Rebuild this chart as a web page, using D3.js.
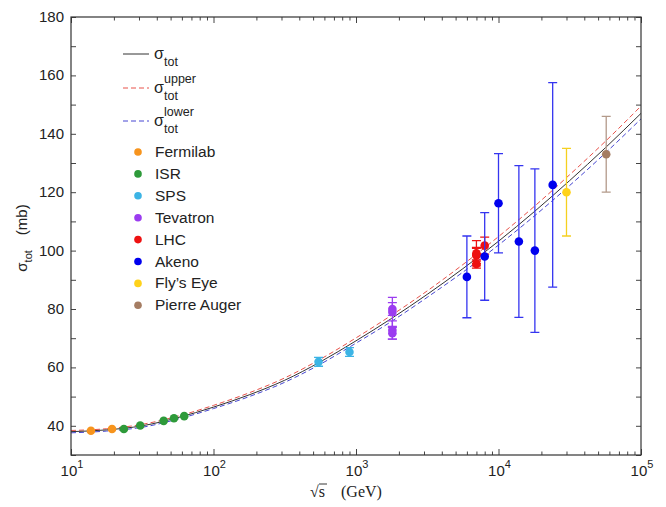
<!DOCTYPE html>
<html>
<head>
<meta charset="utf-8">
<script src="https://cdn.jsdelivr.net/npm/d3@7"></script>
<style>
  body { margin: 0; background: #fff; }
  text { font-family: "Liberation Sans", Arial, sans-serif; fill: #222; }
</style>
</head>
<body>
<div id="chart"></div>
<script>
// fit curves at quarter decades of sqrt(s)
const fitEnergy = [10, 17.8, 31.6, 56.2, 100, 178, 316, 562, 1000, 1780, 3160, 5620, 10000, 17800, 31600, 56200, 100000];
const sigmaTot = [38.0, 38.6, 40.0, 42.8, 46.4, 50.6, 55.6, 61.9, 69.1, 76.8, 85.0, 93.8, 103.2, 113.3, 124.0, 135.2, 147.0];
const sigmaUpper = [38.4, 39.0, 40.5, 43.3, 47.0, 51.3, 56.4, 62.8, 70.1, 77.9, 86.2, 95.2, 104.8, 115.1, 126.0, 137.4, 149.5];
const sigmaLower = [37.6, 38.2, 39.5, 42.3, 45.9, 50.0, 54.9, 61.1, 68.3, 75.8, 84.0, 92.6, 101.9, 111.8, 122.3, 133.4, 145.1];

// measurements: [sqrt(s) GeV, sigma mb, error mb]
const fermilab = [[13.8, 38.3, 0], [19.4, 38.9, 0]];
const isr = [[23.5, 38.9, 0], [30.6, 40.1, 0], [44.7, 41.7, 0], [52.8, 42.6, 0], [62.3, 43.3, 0]];
const sps = [[546, 61.9, 1.5], [900, 65.3, 1.5]];
const tevatron = [[1800, 80.0, 2.2], [1800, 79.0, 5.0], [1800, 72.8, 3.1], [1800, 71.7, 2.0]];
const lhc = [[7000, 98.3, 2.8], [7000, 98.6, 2.2], [7000, 99.1, 4.3], [7000, 95.4, 1.4], [8000, 101.7, 2.9]];
const akeno = [[6000, 91.0, 14.0], [8000, 98.0, 15.0], [10000, 116.2, 17.0], [13900, 103.1, 26.0], [18000, 100.0, 28.0], [24000, 122.5, 35.0]];
const flysEye = [[30000, 120.0, 15.0]];
const auger = [[57000, 133.0, 13.0]];

const groups = [
  {name: "Fermilab", color: "#f7941d", bar: "#f7941d", data: fermilab},
  {name: "ISR", color: "#2e9a3a", bar: "#2e9a3a", data: isr},
  {name: "SPS", color: "#3cb4e5", bar: "#3cb4e5", data: sps},
  {name: "Tevatron", color: "#9b3cf0", bar: "#9b3cf0", data: tevatron},
  {name: "LHC", color: "#ee1111", bar: "#ee1111", data: lhc},
  {name: "Akeno", color: "#0000ee", bar: "#3535f0", data: akeno},
  {name: "Fly\u2019s Eye", color: "#ffd21a", bar: "#f5d020", data: flysEye},
  {name: "Pierre Auger", color: "#a57d63", bar: "#b39a8a", data: auger}
];

const yTicks = [40, 60, 80, 100, 120, 140, 160, 180];
const xDecades = [1, 2, 3, 4, 5];

const W = 666, H = 507;
const margin = {top: 17, right: 25, bottom: 51, left: 71};

function draw_chart() {
  const svg = d3.select("#chart").append("svg")
    .attr("width", W).attr("height", H);

  const x = d3.scaleLog().domain([10, 1e5]).range([margin.left, W - margin.right]);
  const y = d3.scaleLinear().domain([30, 180]).range([H - margin.bottom - 1, margin.top]);
  const x0 = margin.left, x1 = W - margin.right, y0 = H - margin.bottom - 1, y1 = margin.top;

  // minor / major ticks, pointing inwards on all four sides
  const majors = xDecades.map(d => Math.pow(10, d));
  const minors = [];
  majors.slice(0, -1).forEach(m => { for (let k = 2; k < 10; k++) minors.push(m * k); });
  const yAll = d3.range(30, 181, 10);

  const tick = (g) => g.selectAll(".domain").remove();
  svg.append("g").attr("transform", `translate(0,${y0})`)
    .call(d3.axisBottom(x).tickValues(majors).tickSize(-6).tickFormat("")).call(tick);
  svg.append("g").attr("transform", `translate(0,${y0})`)
    .call(d3.axisBottom(x).tickValues(minors).tickSize(-3.5).tickFormat("")).call(tick);
  svg.append("g").attr("transform", `translate(0,${y1})`)
    .call(d3.axisTop(x).tickValues(majors).tickSize(-6).tickFormat("")).call(tick);
  svg.append("g").attr("transform", `translate(0,${y1})`)
    .call(d3.axisTop(x).tickValues(minors).tickSize(-3.5).tickFormat("")).call(tick);
  svg.append("g").attr("transform", `translate(${x0},0)`)
    .call(d3.axisLeft(y).tickValues(yAll).tickSize(-5).tickFormat("")).call(tick);
  svg.append("g").attr("transform", `translate(${x1},0)`)
    .call(d3.axisRight(y).tickValues(yAll).tickSize(-5).tickFormat("")).call(tick);
  svg.selectAll(".tick line").attr("stroke", "#444");

  // tick labels
  svg.append("g").selectAll("text").data(yTicks).join("text")
    .attr("x", x0 - 7).attr("y", d => y(d) + 5)
    .attr("text-anchor", "end").attr("font-size", 15).text(d => d);

  const xl = svg.append("g").selectAll("text").data(xDecades).join("text")
    .attr("x", d => x(Math.pow(10, d)) + 1).attr("y", y0 + 21)
    .attr("text-anchor", "middle").attr("font-size", 15);
  xl.append("tspan").text("10");
  xl.append("tspan").attr("dy", -8).attr("font-size", 11).text(d => d);

  // axis titles
  const xt = svg.append("text").attr("x", 310).attr("y", y0 + 42)
    .style("font-family", "'Liberation Serif', 'DejaVu Serif', serif").attr("font-size", 16);
  xt.append("tspan").text("\u221As");
  xt.append("tspan").attr("dx", 16).text("(GeV)");
  svg.append("line").attr("x1", 319).attr("x2", 327).attr("y1", y0 + 29).attr("y2", y0 + 29)
    .attr("stroke", "#222").attr("stroke-width", 0.9);

  const yt = svg.append("text")
    .attr("transform", `translate(27,${(y0 + y1) / 2 + 2}) rotate(-90)`)
    .attr("text-anchor", "middle").attr("font-size", 15);
  yt.append("tspan").text("\u03C3");
  yt.append("tspan").attr("dy", 5).attr("font-size", 11).text("tot");
  yt.append("tspan").attr("dy", -5).attr("dx", 15).text("(mb)");

  // fit curves
  const line = d3.line().x(d => x(d[0])).y(d => y(d[1])).curve(d3.curveMonotoneX);
  const plot = svg.append("g");
  plot.append("path").datum(fitEnergy.map((e, i) => [e, sigmaUpper[i]]))
    .attr("d", line).attr("fill", "none").attr("stroke", "#e8524a")
    .attr("stroke-width", 1).attr("stroke-dasharray", "5,3");
  plot.append("path").datum(fitEnergy.map((e, i) => [e, sigmaLower[i]]))
    .attr("d", line).attr("fill", "none").attr("stroke", "#4646d2")
    .attr("stroke-width", 1).attr("stroke-dasharray", "5,3");
  plot.append("path").datum(fitEnergy.map((e, i) => [e, sigmaTot[i]]))
    .attr("d", line).attr("fill", "none").attr("stroke", "#333")
    .attr("stroke-width", 1);

  // data points with error bars
  groups.forEach(gr => {
    const g = plot.append("g");
    const withErr = gr.data.filter(d => d[2] > 0);
    g.selectAll("path.bar").data(withErr).join("path")
      .attr("class", "bar").attr("fill", "none").attr("stroke", gr.bar).attr("stroke-width", 1.3)
      .attr("d", d => {
        const cx = x(d[0]), top = y(d[1] + d[2]), bot = y(d[1] - d[2]);
        return `M${cx},${top}V${bot}M${cx - 4.5},${top}H${cx + 4.5}M${cx - 4.5},${bot}H${cx + 4.5}`;
      });
    g.selectAll("circle").data(gr.data).join("circle")
      .attr("cx", d => x(d[0])).attr("cy", d => y(d[1])).attr("r", 4.3)
      .attr("fill", gr.color);
  });

  // frame
  svg.append("rect").attr("x", x0).attr("y", y1).attr("width", x1 - x0).attr("height", y0 - y1)
    .attr("fill", "none").attr("stroke", "#333").attr("stroke-width", 1.2);

  // legend
  const leg = svg.append("g");
  const lineItems = [
    {y: 54, color: "#333", dash: null, sup: null},
    {y: 88, color: "#e8524a", dash: "5,3", sup: "upper"},
    {y: 121, color: "#4646d2", dash: "5,3", sup: "lower"}
  ];
  lineItems.forEach(it => {
    leg.append("line").attr("x1", 123).attr("x2", 149).attr("y1", it.y).attr("y2", it.y)
      .attr("stroke", it.color).attr("stroke-width", 1).attr("stroke-dasharray", it.dash);
    leg.append("text").attr("x", 154).attr("y", it.y + 5).attr("font-size", 16).text("\u03C3");
    leg.append("text").attr("x", 164).attr("y", it.y + 12).attr("font-size", 12.5).text("tot");
    if (it.sup) leg.append("text").attr("x", 164).attr("y", it.y - 5).attr("font-size", 12.5).text(it.sup);
  });
  groups.forEach((gr, i) => {
    const ly = 152 + i * 21.9;
    leg.append("circle").attr("cx", 138).attr("cy", ly).attr("r", 3.8).attr("fill", gr.color);
    leg.append("text").attr("x", 155).attr("y", ly + 5).attr("font-size", 15.5).text(gr.name);
  });
}

draw_chart();
</script>
</body>
</html>
